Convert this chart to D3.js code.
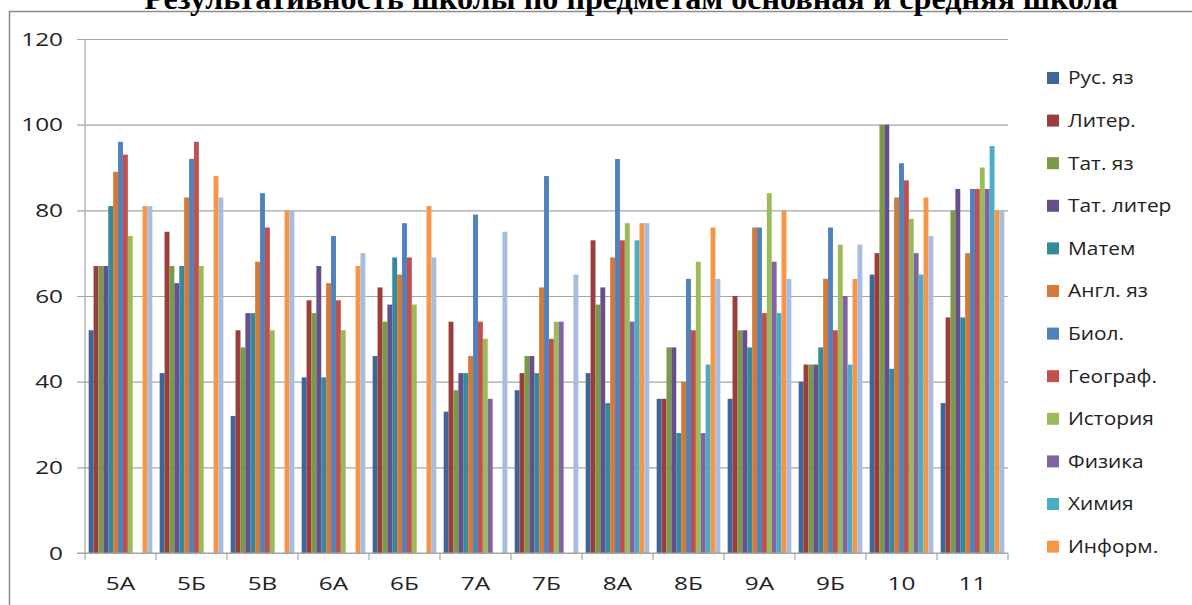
<!DOCTYPE html>
<html>
<head>
<meta charset="utf-8">
<script src="https://cdn.jsdelivr.net/npm/d3@7"></script>
<style>
  body { margin: 0; background: #fff; }
  svg { display: block; }
  text { font-family: "Open Sans", Lato, sans-serif; fill: #222; }
</style>
</head>
<body>
<svg id="chart"></svg>
<script>
// classes
const classes = ["5А", "5Б", "5В", "6А", "6Б", "7А", "7Б", "8А", "8Б", "9А", "9Б", "10", "11"];

// subjects (the 13th series has no legend entry in the source)
const subjects = ["Рус. яз", "Литер.", "Тат. яз", "Тат. литер", "Матем", "Англ. яз",
                  "Биол.", "Географ.", "История", "Физика", "Химия", "Информ."];

const rusYaz    = [52, 42, 32, 41, 46, 33, 38, 42, 36, 36, 40, 65, 35];
const liter     = [67, 75, 52, 59, 62, 54, 42, 73, 36, 60, 44, 70, 55];
const tatYaz    = [67, 67, 48, 56, 54, 38, 46, 58, 48, 52, 44, 100, 80];
const tatLiter  = [67, 63, 56, 67, 58, 42, 46, 62, 48, 52, 44, 100, 85];
const matem     = [81, 67, 56, 41, 69, 42, 42, 35, 28, 48, 48, 43, 55];
const angl      = [89, 83, 68, 63, 65, 46, 62, 69, 40, 76, 64, 83, 70];
const biol      = [96, 92, 84, 74, 77, 79, 88, 92, 64, 76, 76, 91, 85];
const geograf   = [93, 96, 76, 59, 69, 54, 50, 73, 52, 56, 52, 87, 85];
const istoriya  = [74, 67, 52, 52, 58, 50, 54, 77, 68, 84, 72, 78, 90];
const fizika    = [null, null, null, null, null, 36, 54, 54, 28, 68, 60, 70, 85];
const himiya    = [null, null, null, null, null, null, null, 73, 44, 56, 44, 65, 95];
const inform    = [81, 88, 80, 67, 81, null, null, 77, 76, 80, 64, 83, 80];
const unlabeled = [81, 83, 80, 70, 69, 75, 65, 77, 64, 64, 72, 74, 80];

const yTicks = [0, 20, 40, 60, 80, 100, 120];

const titleText = "Результативность школы по предметам основная и средняя школа";

// the source picture is a bit stretched sideways, so widen the labels too
function stretch(sel, k) {
    sel.each(function () {
        let w = this.getComputedTextLength();
        d3.select(this).attr("textLength", w * k).attr("lengthAdjust", "spacingAndGlyphs");
    });
}

class GroupedBars {
    constructor(_config) {
        this.config = {
            parentElement: _config.parentElement,
            containerWidth: _config.containerWidth || 1192,
            containerHeight: _config.containerHeight || 605,
        }
        this.config.margin = _config.margin || { top: 39, bottom: 52, right: 184, left: 85 }
        this.initVis();
    }

    initVis() {
        let vis = this;

        vis.width = vis.config.containerWidth - vis.config.margin.left - vis.config.margin.right;
        vis.height = vis.config.containerHeight - vis.config.margin.top - vis.config.margin.bottom;

        vis.colorSet = ["#3e6699", "#9b3d3b", "#7a9a48", "#65508a", "#35899f", "#d27a37",
                        "#4f81bd", "#c0504d", "#9bbb59", "#8064a2", "#4bacc6", "#f79646", "#a8bcdf"];
        vis.series = [rusYaz, liter, tatYaz, tatLiter, matem, angl, biol, geograf,
                      istoriya, fizika, himiya, inform, unlabeled];

        vis.svg = d3.select(vis.config.parentElement)
            .attr("width", vis.config.containerWidth)
            .attr("height", vis.config.containerHeight);

        // frame of the embedded chart
        vis.svg.append("rect")
            .attr("x", 9.5).attr("y", 11.5)
            .attr("width", 1200).attr("height", 620)
            .attr("fill", "none")
            .attr("stroke", "#8c8c8c")
            .attr("stroke-width", 1.5);

        // title, cut off at the top of the page like in the source
        let title = vis.svg.append("text")
            .attr("x", 631)
            .attr("y", 9)
            .attr("text-anchor", "middle")
            .style("font-family", "'Liberation Serif', 'Times New Roman', serif")
            .style("font-weight", "bold")
            .style("font-size", "20px")
            .style("fill", "#000")
            .text(titleText);
        let w = title.node().getComputedTextLength();
        title.style("font-size", (20 * 974 / w) + "px");

        vis.chart = vis.svg.append("g")
            .attr("transform", `translate(${vis.config.margin.left},${vis.config.margin.top})`);

        vis.xScale = d3.scaleBand()
            .domain(classes)
            .range([0, vis.width])
            .padding(0);

        vis.xSubScale = d3.scaleBand()
            .domain(d3.range(vis.series.length))
            .range([0, vis.xScale.bandwidth()])
            .paddingInner(0)
            .paddingOuter(0.75);

        vis.yScale = d3.scaleLinear()
            .domain([0, 120])
            .range([vis.height, 0]);

        vis.render();
    }

    render() {
        let vis = this;

        // gridlines + y labels
        vis.chart.append("g")
            .attr("class", "y-axis")
            .attr("transform", "translate(-8,0)")
            .call(d3.axisLeft(vis.yScale).tickValues(yTicks).tickSize(-(vis.width + 8)).tickPadding(14))
            .call(g => g.select(".domain").remove())
            .call(g => g.selectAll("line").attr("stroke", "#a6a6a6").attr("stroke-width", 1.2))
            .call(g => g.selectAll("text").style("font-size", "19px").attr("fill", "#222"))
            .call(g => stretch(g.selectAll("text"), 1.28));

        // y axis line
        vis.chart.append("line")
            .attr("x1", 0).attr("x2", 0)
            .attr("y1", 0).attr("y2", vis.height)
            .attr("stroke", "#a6a6a6").attr("stroke-width", 1.2);

        // bars
        let groups = vis.chart.selectAll(".group_part")
            .data(classes)
            .enter().append("g")
            .attr("class", "group_part")
            .attr("transform", d => `translate(${vis.xScale(d)},0)`);

        groups.selectAll("rect")
            .data((d, i) => vis.series.map((s, k) => ({ k: k, v: s[i] })).filter(t => t.v != null))
            .enter().append("rect")
            .attr("x", d => vis.xSubScale(d.k))
            .attr("y", d => vis.yScale(d.v))
            .attr("width", vis.xSubScale.bandwidth())
            .attr("height", d => vis.height - vis.yScale(d.v))
            .attr("fill", d => vis.colorSet[d.k]);

        // x axis: baseline, ticks between categories, labels at centers
        let xAxis = vis.chart.append("g")
            .attr("transform", `translate(0,${vis.height})`);
        xAxis.append("line")
            .attr("x1", -8).attr("x2", vis.width)
            .attr("stroke", "#a6a6a6").attr("stroke-width", 1.2);
        xAxis.selectAll(".sep")
            .data(classes.concat([null]))
            .enter().append("line")
            .attr("class", "sep")
            .attr("x1", (d, i) => i * vis.xScale.step())
            .attr("x2", (d, i) => i * vis.xScale.step())
            .attr("y1", 0).attr("y2", 7)
            .attr("stroke", "#a6a6a6").attr("stroke-width", 1.2);
        xAxis.call(d3.axisBottom(vis.xScale).tickSize(0).tickPadding(24))
            .call(g => g.select(".domain").remove())
            .call(g => g.selectAll("text").style("font-size", "19px").attr("fill", "#222"))
            .call(g => stretch(g.selectAll("text"), 1.28));

        // legend
        let legend = vis.svg.append("g")
            .attr("transform", "translate(1047,78)");
        let rows = legend.selectAll(".leg")
            .data(subjects)
            .enter().append("g")
            .attr("class", "leg")
            .attr("transform", (d, i) => `translate(0,${i * 42.6})`);
        rows.append("rect")
            .attr("x", 0).attr("y", -6)
            .attr("width", 12).attr("height", 12)
            .attr("fill", (d, i) => vis.colorSet[i]);
        rows.append("text")
            .attr("x", 21).attr("y", 0)
            .attr("dy", "0.35em")
            .style("font-size", "18px")
            .text(d => d);
        stretch(rows.selectAll("text"), 1.16);
    }
}

new GroupedBars({ parentElement: "#chart" });
</script>
</body>
</html>
